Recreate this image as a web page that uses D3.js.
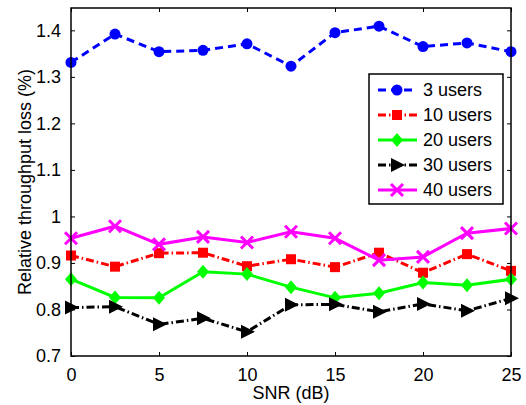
<!DOCTYPE html>
<html>
<head>
  <meta charset="UTF-8" />
  <title>Relative throughput loss</title>
  <style>
    body { margin: 0; background: #fff; }
    svg { font-family: "Liberation Sans", Arial, Helvetica, sans-serif; }
  </style>
  <script src="https://d3js.org/d3.v7.min.js"></script>
</head>
<body>
  <script>
    // SNR values (dB)
    let snr = [0, 2.5, 5, 7.5, 10, 12.5, 15, 17.5, 20, 22.5, 25];
    let xTicks = [0, 5, 10, 15, 20, 25];
    let yTicks = [0.7, 0.8, 0.9, 1, 1.1, 1.2, 1.3, 1.4];

    let users3 = [1.331, 1.392, 1.354, 1.357, 1.371, 1.323, 1.395, 1.409, 1.365, 1.373, 1.354];
    let users10 = [0.916, 0.892, 0.921, 0.922, 0.893, 0.908, 0.891, 0.922, 0.879, 0.919, 0.883];
    let users20 = [0.865, 0.826, 0.825, 0.881, 0.876, 0.848, 0.825, 0.835, 0.858, 0.852, 0.865];
    let users30 = [0.804, 0.806, 0.768, 0.781, 0.752, 0.810, 0.811, 0.795, 0.812, 0.797, 0.824];
    let users40 = [0.953, 0.979, 0.940, 0.956, 0.944, 0.967, 0.953, 0.906, 0.913, 0.964, 0.974];

    let seriesNames = ["3 users", "10 users", "20 users", "30 users", "40 users"];

    let W = 526, H = 405,
      margin = { top: 8, right: 15, bottom: 49, left: 71 },
      width = W - margin.left - margin.right,
      height = H - margin.top - margin.bottom;

    let series = [
      { name: seriesNames[0], values: users3, color: "#0000ff", dash: "8,5", marker: "circle" },
      { name: seriesNames[1], values: users10, color: "#ff0000", dash: "8,3,1.5,3", marker: "square" },
      { name: seriesNames[2], values: users20, color: "#00ff00", dash: null, marker: "diamond" },
      { name: seriesNames[3], values: users30, color: "#000000", dash: "8,3,1.5,3", marker: "triangle" },
      { name: seriesNames[4], values: users40, color: "#ff00ff", dash: null, marker: "cross" }
    ];

    let svg = d3.select("body")
      .append("svg")
      .attr("width", W)
      .attr("height", H);

    let g = svg.append("g")
      .attr("transform", `translate(${margin.left},${margin.top})`);

    let x = d3.scaleLinear().domain([0, 25]).range([0, width]);
    let y = d3.scaleLinear().domain([0.7, 1.448]).range([height, 0]);

    /* Axes with inward ticks */
    let fmt = d => d3.format("")(Math.round(d * 10) / 10);
    let axisStyle = sel => {
      sel.select(".domain").remove();
      sel.selectAll("line").attr("stroke", "#000").attr("stroke-width", 1);
      sel.selectAll("text").attr("font-size", 18).attr("fill", "#000");
    };

    g.append("g")
      .attr("transform", `translate(0,${height})`)
      .call(d3.axisBottom(x).tickValues(xTicks).tickSizeInner(-4).tickSizeOuter(0).tickPadding(12).tickFormat(d3.format("")))
      .call(axisStyle);
    g.append("g")
      .call(d3.axisTop(x).tickValues(xTicks).tickSizeInner(-4).tickSizeOuter(0).tickFormat(""))
      .call(axisStyle);
    g.append("g")
      .call(d3.axisLeft(y).tickValues(yTicks).tickSizeInner(-4).tickSizeOuter(0).tickPadding(10).tickFormat(fmt))
      .call(axisStyle);
    g.append("g")
      .attr("transform", `translate(${width},0)`)
      .call(d3.axisRight(y).tickValues(yTicks).tickSizeInner(-4).tickSizeOuter(0).tickFormat(""))
      .call(axisStyle);

    /* Marker drawing */
    function drawMarker(sel, type, color) {
      if (type === "circle") {
        sel.append("circle").attr("r", 5.5).attr("fill", color);
      } else if (type === "square") {
        sel.append("rect").attr("x", -5).attr("y", -5).attr("width", 10).attr("height", 10).attr("fill", color);
      } else if (type === "diamond") {
        sel.append("path").attr("d", "M0,-7L6,0L0,7L-6,0Z").attr("fill", color);
      } else if (type === "triangle") {
        sel.append("path").attr("d", "M8,0L-6,-7L-6,7Z").attr("fill", color);
      } else if (type === "cross") {
        sel.append("path").attr("d", "M-6,-6L6,6M-6,6L6,-6")
          .attr("stroke", color).attr("stroke-width", 3).attr("fill", "none");
      }
    }

    let line = d3.line()
      .x((d, i) => x(snr[i]))
      .y(d => y(d));

    series.forEach(s => {
      g.append("path")
        .datum(s.values)
        .attr("d", line)
        .attr("fill", "none")
        .attr("stroke", s.color)
        .attr("stroke-width", 3)
        .attr("stroke-dasharray", s.dash);

      g.append("g")
        .selectAll("g")
        .data(s.values)
        .enter()
        .append("g")
        .attr("transform", (d, i) => `translate(${x(snr[i])},${y(d)})`)
        .each(function () { drawMarker(d3.select(this), s.marker, s.color); });
    });

    /* Plot box */
    g.append("rect")
      .attr("width", width)
      .attr("height", height)
      .attr("fill", "none")
      .attr("stroke", "#000")
      .attr("stroke-width", 1.5);

    /* Axis labels */
    svg.append("text")
      .attr("x", margin.left + width / 2)
      .attr("y", 399)
      .attr("text-anchor", "middle")
      .attr("font-size", 18)
      .text("SNR (dB)");

    svg.append("text")
      .attr("transform", `translate(31,${margin.top + height / 2}) rotate(-90)`)
      .attr("text-anchor", "middle")
      .attr("font-size", 18)
      .text("Relative throughput loss (%)");

    /* Legend */
    let legend = svg.append("g").attr("transform", "translate(369,74)");
    legend.append("rect")
      .attr("width", 134)
      .attr("height", 130)
      .attr("fill", "#fff")
      .attr("stroke", "#000")
      .attr("stroke-width", 1.5);

    let items = legend.selectAll(".legend-item")
      .data(series)
      .enter()
      .append("g")
      .attr("class", "legend-item")
      .attr("transform", (d, i) => `translate(0,${16 + i * 25})`);

    items.append("line")
      .attr("x1", 9).attr("x2", 48)
      .attr("stroke", d => d.color)
      .attr("stroke-width", 3)
      .attr("stroke-dasharray", d => d.dash);

    items.append("g")
      .attr("transform", "translate(28,0)")
      .each(function (d) { drawMarker(d3.select(this), d.marker, d.color); });

    items.append("text")
      .attr("x", 54)
      .attr("dy", "0.35em")
      .attr("font-size", 18)
      .text(d => d.name);
  </script>
</body>
</html>
